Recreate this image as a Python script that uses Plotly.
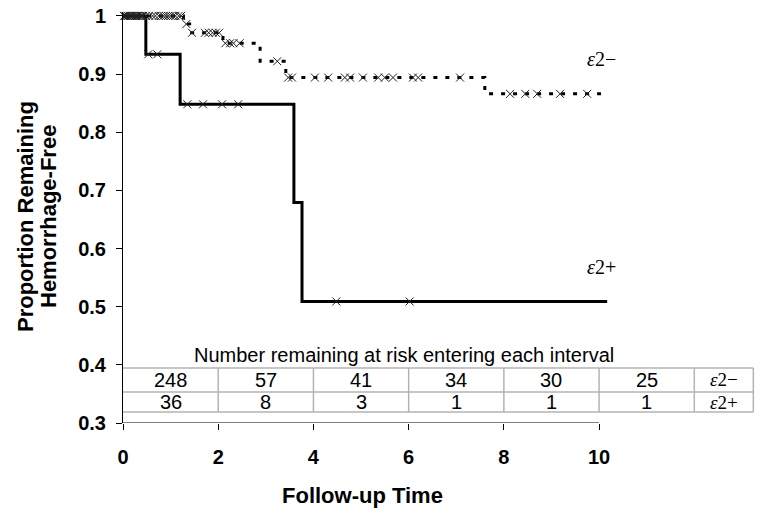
import plotly.graph_objects as go

# ---------------- data ----------------
# Kaplan-Meier step curves (time, proportion hemorrhage-free)
neg_t = [0, 1.27, 1.40, 2.10, 2.88, 3.42, 7.60, 10.08]
neg_s = [1.0, 0.986, 0.971, 0.953, 0.922, 0.894, 0.866, 0.866]
pos_t = [0, 0.48, 1.20, 3.59, 3.76, 10.17]
pos_s = [1.0, 0.934, 0.848, 0.679, 0.509, 0.509]

# censored observations (x marks)
neg_cens_t = [0.02, 0.06, 0.10, 0.14, 0.18, 0.22, 0.27, 0.32, 0.37, 0.42, 0.48,
              0.55, 0.62, 0.68, 0.75, 0.80, 0.85, 0.90, 0.95, 1.00, 1.05, 1.10,
              1.17, 1.22,
              1.33,
              1.45, 1.72, 1.80, 1.88, 1.95, 2.02,
              2.15, 2.25, 2.32, 2.45,
              3.24,
              3.47, 3.55, 4.03, 4.31, 4.66, 4.77, 5.04, 5.36, 5.50, 5.67, 6.09,
              6.20, 7.08,
              8.13, 8.45, 8.70, 9.18, 9.75]
neg_cens_s = [1.0] * 24 + [0.986] + [0.971] * 6 + [0.953] * 4 + [0.922] + \
             [0.894] * 13 + [0.866] * 5
pos_cens_t = [0.05, 0.10, 0.15, 0.20, 0.25, 0.30, 0.35, 0.40,
              0.53, 0.72,
              1.35, 1.68, 2.08, 2.42,
              4.48, 6.02]
pos_cens_s = [1.0] * 8 + [0.934] * 2 + [0.848] * 4 + [0.509] * 2

# number at risk table
interval_edges = [0, 2, 4, 6, 8, 10, 12]
risk_neg = [248, 57, 41, 34, 30, 25]
risk_pos = [36, 8, 3, 1, 1, 1]
group_neg = "<i>ε</i>2−"
group_pos = "<i>ε</i>2+"
table_title = "Number remaining at risk entering each interval"

x_ticks = [0, 2, 4, 6, 8, 10]
y_ticks = [0.3, 0.4, 0.5, 0.6, 0.7, 0.8, 0.9, 1.0]
y_ticktext = ["0.3", "0.4", "0.5", "0.6", "0.7", "0.8", "0.9", "1"]

# ---------------- figure ----------------
SANS = "Arial, Liberation Sans, sans-serif"
SERIF = "Times New Roman, Liberation Serif, serif"
W, H = 764, 514
ML, MR, MT, MB = 123, 4, 13, 91
XMAX = 13.38

fig = go.Figure()

fig.add_trace(go.Scatter(x=neg_t, y=neg_s, mode="lines", line_shape="hv",
                         line=dict(color="black", width=3, dash="4px,8px"),
                         showlegend=False, hoverinfo="skip"))
fig.add_trace(go.Scatter(x=pos_t, y=pos_s, mode="lines", line_shape="hv",
                         line=dict(color="black", width=3),
                         showlegend=False, hoverinfo="skip"))
fig.add_trace(go.Scatter(x=neg_cens_t, y=neg_cens_s, mode="markers",
                         marker=dict(symbol="x-thin", size=8,
                                     line=dict(color="#222", width=1)),
                         cliponaxis=False, showlegend=False))
fig.add_trace(go.Scatter(x=pos_cens_t, y=pos_cens_s, mode="markers",
                         marker=dict(symbol="x-thin", size=8,
                                     line=dict(color="#222", width=1)),
                         cliponaxis=False, showlegend=False))

shapes = []
# x axis line (only across 0..10)
shapes.append(dict(type="line", xref="x", yref="y", x0=x_ticks[0], x1=x_ticks[-1],
                   y0=y_ticks[0], y1=y_ticks[0], line=dict(color="black", width=1)))

# risk table
t_top, t_mid, t_bot = 0.3946, 0.3533, 0.3189
t_left, t_right = -0.02, 13.24
gray = "#b3b3b3"
for yy in (t_top, t_mid, t_bot):
    shapes.append(dict(type="line", xref="x", yref="y", x0=t_left, x1=t_right,
                       y0=yy, y1=yy, line=dict(color=gray, width=1.5)))
col_edges = [t_left] + interval_edges[1:] + [t_right]
for xx in col_edges:
    shapes.append(dict(type="line", xref="x", yref="y", x0=xx, x1=xx,
                       y0=t_bot, y1=t_top, line=dict(color=gray, width=1.5)))

annotations = []
row_neg_y, row_pos_y = 0.374, 0.336
for i in range(len(risk_neg)):
    cx = (interval_edges[i] + interval_edges[i + 1]) / 2
    annotations.append(dict(x=cx, y=row_neg_y, xref="x", yref="y", text=str(risk_neg[i]),
                            showarrow=False, font=dict(family=SANS, size=20, color="black")))
    annotations.append(dict(x=cx, y=row_pos_y, xref="x", yref="y", text=str(risk_pos[i]),
                            showarrow=False, font=dict(family=SANS, size=20, color="black")))
lab_x = (interval_edges[-1] + t_right) / 2
annotations.append(dict(x=lab_x, y=row_neg_y, xref="x", yref="y", text=group_neg,
                        showarrow=False, font=dict(family=SERIF, size=19, color="black")))
annotations.append(dict(x=lab_x, y=row_pos_y, xref="x", yref="y", text=group_pos,
                        showarrow=False, font=dict(family=SERIF, size=19, color="black")))
annotations.append(dict(x=5.9, y=0.4169, xref="x", yref="y", text=table_title,
                        showarrow=False, font=dict(family=SANS, size=20, color="black")))

# curve labels
annotations.append(dict(x=10.05, y=0.926, xref="x", yref="y", text=group_neg,
                        showarrow=False, font=dict(family=SERIF, size=20, color="black")))
annotations.append(dict(x=10.05, y=0.569, xref="x", yref="y", text=group_pos,
                        showarrow=False, font=dict(family=SERIF, size=20, color="black")))

# axis titles (positions given in page pixels)
plot_w = W - ML - MR
plot_h = H - MT - MB
def px2paper_x(px):
    return (px - ML) / plot_w
def px2paper_y(py):
    return (H - MB - py) / plot_h

annotations.append(dict(x=px2paper_x(25), y=px2paper_y(217), xref="paper", yref="paper",
                        text="Proportion Remaining", textangle=-90, showarrow=False,
                        xanchor="center", yanchor="middle",
                        font=dict(family=SANS, size=22, color="black", weight="bold")))
annotations.append(dict(x=px2paper_x(48), y=px2paper_y(217), xref="paper", yref="paper",
                        text="Hemorrhage-Free", textangle=-90, showarrow=False,
                        xanchor="center", yanchor="middle",
                        font=dict(family=SANS, size=22, color="black", weight="bold")))
annotations.append(dict(x=px2paper_x(362), y=px2paper_y(495), xref="paper", yref="paper",
                        text="Follow-up Time", showarrow=False,
                        xanchor="center", yanchor="middle",
                        font=dict(family=SANS, size=22, color="black", weight="bold")))

fig.update_layout(
    width=W, height=H,
    margin=dict(l=ML, r=MR, t=MT, b=MB, pad=0, autoexpand=False),
    paper_bgcolor="white", plot_bgcolor="white",
    shapes=shapes, annotations=annotations,
    hovermode=False,
    xaxis=dict(range=[0, XMAX], tickvals=x_ticks, ticks="outside", ticklen=6,
               tickcolor="black", showline=False, showgrid=False, zeroline=False,
               ticklabelstandoff=10, ticklabeloverflow="allow", automargin=False,
               tickfont=dict(family=SANS, size=20, color="black", weight="bold")),
    yaxis=dict(range=[0.3, 1.005], tickvals=y_ticks, ticktext=y_ticktext,
               ticks="outside", ticklen=6, tickcolor="black", showline=True,
               linecolor="black", linewidth=1, showgrid=False, zeroline=False,
               ticklabelstandoff=6, ticklabeloverflow="allow", automargin=False,
               tickfont=dict(family=SANS, size=20, color="black", weight="bold")),
)

fig.write_html("out.html",
               config={"displayModeBar": False},
               post_script="document.body.style.margin='0';"
                           "document.body.style.overflow='hidden';")
